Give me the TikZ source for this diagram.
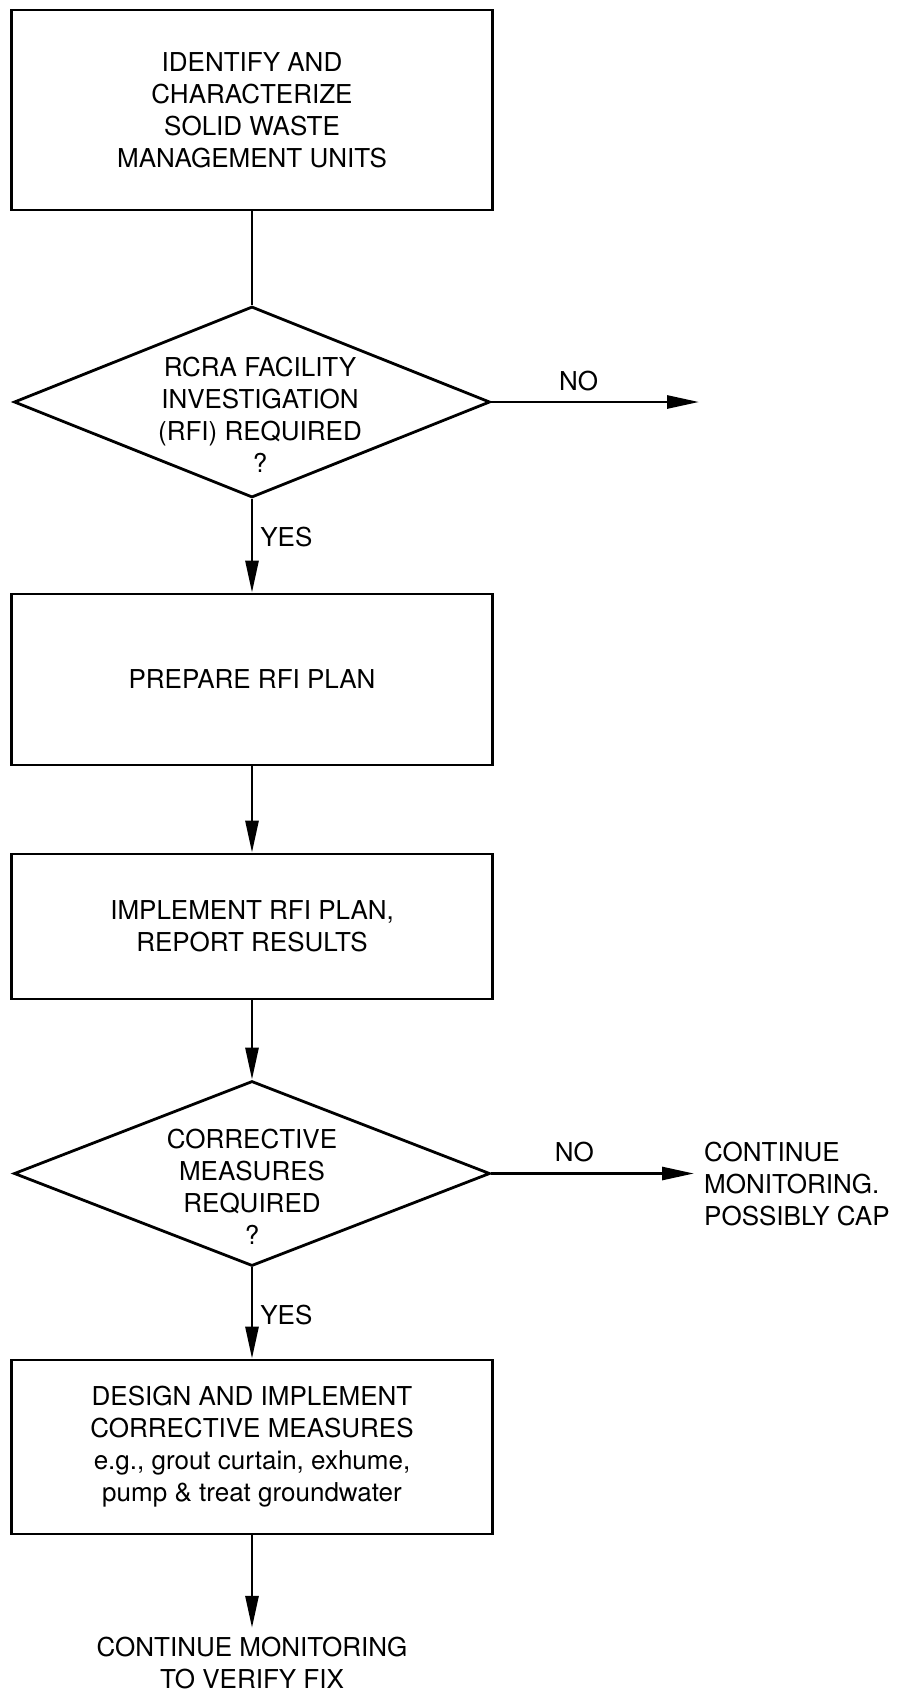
\documentclass[tikz,border=0pt]{standalone}
\usepackage{fontspec}
\setmainfont{TeX Gyre Heros}
\usetikzlibrary{arrows.meta,shapes.geometric}
\tikzset{
  box/.style={rectangle, draw=black, line width=2.8pt, minimum width=481pt,
              align=center, inner sep=0pt},
  gate/.style={diamond, draw=black, line width=2.8pt, minimum width=476pt,
               inner sep=0pt},
  txt/.style={align=center, inner sep=0pt},
  fl/.style={-{Triangle[length=32pt,width=13pt]}, draw=black, line width=2.8pt},
  ln/.style={draw=black, line width=2.8pt},
  lbl/.style={inner sep=3pt}
}

\begin{document}
\begin{tikzpicture}[x=1pt, y=-1pt, font=\fontsize{26}{32}\selectfont]
  \useasboundingbox (0,0) rectangle (900,1692);
  % main column
  \node[box, minimum height=200pt] (ident) at (252,110) {IDENTIFY AND\\CHARACTERIZE\\SOLID WASTE\\MANAGEMENT UNITS};
  \node[gate, minimum height=191pt] (rfi) at (252,402) {};
  \node[txt] (rfitxt) at (260,415) {RCRA FACILITY\\INVESTIGATION\\(RFI) REQUIRED\\?};
  \node[box, minimum height=171pt] (prep) at (252,679.5) {PREPARE RFI PLAN};
  \node[box, minimum height=145pt] (impl) at (252,926.5) {IMPLEMENT RFI PLAN,\\REPORT RESULTS};
  \node[gate, minimum height=185pt] (rcm) at (252,1173.5) {};
  \node[txt] (rcmtxt) at (252,1187) {CORRECTIVE\\MEASURES\\REQUIRED\\?};
  \node[box, minimum height=174pt] (fix) at (252,1447) {DESIGN AND IMPLEMENT\\CORRECTIVE MEASURES\\e.g., grout curtain, exhume,\\pump \& treat groundwater};
  \node[txt, inner sep=9pt] (verify) at (252,1663) {CONTINUE MONITORING\\TO VERIFY FIX};
  % side exits
  \coordinate (noend) at (699,402);
  \node[txt, inner sep=10pt, anchor=west, align=left] (cont) at (694,1184) {CONTINUE\\MONITORING.\\POSSIBLY CAP};
  % connectors
  \draw[ln] (ident.south) -- (rfi.north);
  \draw[fl] (rfi.south) -- node[lbl, right=4pt, pos=.41] {YES} (prep.north);
  \draw[fl] (rfi.east) -- node[lbl, above=7pt, pos=.42] {NO} (noend);
  \draw[fl] (prep.south) -- (impl.north);
  \draw[fl] (impl.south) -- (rcm.north);
  \draw[fl] (rcm.south) -- node[lbl, right=4pt, pos=.52] {YES} (fix.north);
  \draw[fl] (rcm.east) -- node[lbl, above=7pt, pos=.41] {NO} (rcm.east -| cont.west);
  \draw[fl] (fix.south) -- (verify.north);
\end{tikzpicture}
\end{document}
